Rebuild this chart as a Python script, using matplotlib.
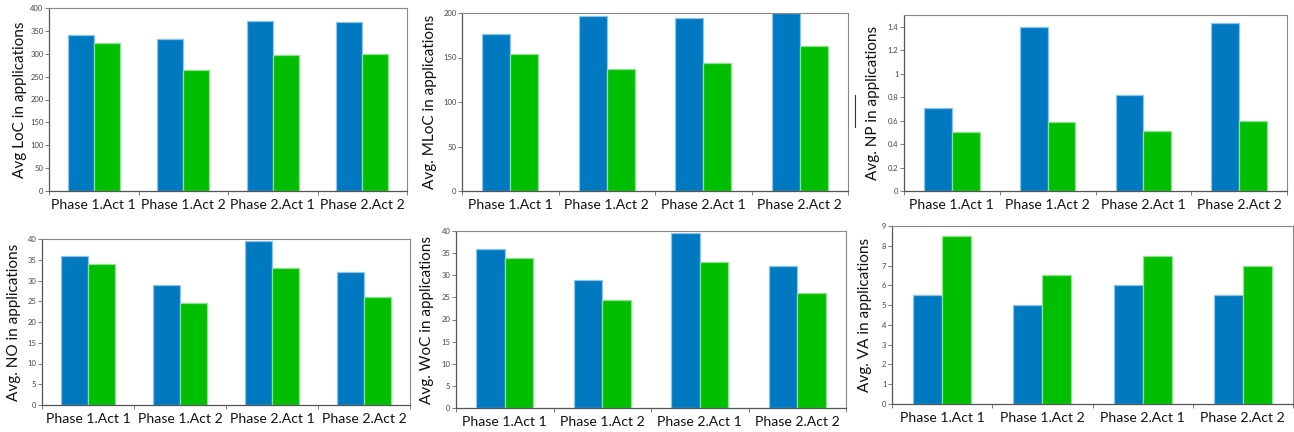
"""Six grouped bar panels: averages per phase/activity, blue vs green group."""

import numpy as np
import matplotlib
matplotlib.use("Agg")
import matplotlib.pyplot as plt
from matplotlib.lines import Line2D

plt.rcParams["font.family"] = ["Lato", "DejaVu Sans"]

CATEGORIES = ["Phase 1.Act 1", "Phase 1.Act 2", "Phase 2.Act 1", "Phase 2.Act 2"]

loc_blue = [340, 333, 372, 370]
loc_green = [323, 264, 297, 300]

mloc_blue = [176, 197, 194, 200]
mloc_green = [154, 137, 144, 163]

np_blue = [0.71, 1.40, 0.82, 1.43]
np_green = [0.50, 0.59, 0.51, 0.60]

no_blue = [36, 29, 39.5, 32]
no_green = [34, 24.5, 33, 26]

woc_blue = [36, 29, 39.5, 32]
woc_green = [34, 24.5, 33, 26]

va_blue = [5.5, 5.0, 6.0, 5.5]
va_green = [8.5, 6.5, 7.5, 7.0]

BLUE = "#0079C1"
BLUE_EDGE = "#8CC4EA"
GREEN = "#00BE00"
GREEN_EDGE = "#8FE38F"

W, H = 1294, 432

# (left, right, top, bottom) px, label centre offset px, ylabel, data, ylim, ticks, tick labels
PANELS = [
    ((49, 407, 8, 191), 29, "Avg LoC in applications", loc_blue, loc_green,
     400, np.arange(0, 401, 50), None),
    ((462, 848, 13, 191), 32, "Avg. MLoC in applications", mloc_blue, mloc_green,
     200, np.arange(0, 201, 50), None),
    ((904, 1287, 15, 191), 31, "Avg. NP in applications", np_blue, np_green,
     1.5, np.arange(0, 1.41, 0.2),
     ["0", "0.2", "0.4", "0.6", "0.8", "1", "1.2", "1.4"]),
    ((42, 410, 239, 405), 28, "Avg. NO in applications", no_blue, no_green,
     40, np.arange(0, 41, 5), None),
    ((456, 846, 231, 408), 29, "Avg. WoC in applications", woc_blue, woc_green,
     40, np.arange(0, 41, 5), None),
    ((892, 1293, 226, 404), 27, "Avg. VA in applications", va_blue, va_green,
     9, np.arange(0, 10, 1), None),
]

fig = plt.figure(figsize=(W / 100, H / 100), dpi=100)

x = np.arange(len(CATEGORIES))
bw = 0.29

for (l, r, t, b), lab_off, ylabel, blue, green, ymax, yticks, ylabels in PANELS:
    ax = fig.add_axes([l / W, 1 - b / H, (r - l) / W, (b - t) / H])
    ax.bar(x - bw / 2, blue, bw, color=BLUE, edgecolor=BLUE_EDGE, linewidth=0.9)
    ax.bar(x + bw / 2, green, bw, color=GREEN, edgecolor=GREEN_EDGE, linewidth=0.9)

    ax.set_xlim(-0.5, len(CATEGORIES) - 0.5)
    ax.set_ylim(0, ymax)

    ax.set_yticks(yticks)
    if ylabels is not None:
        ax.set_yticklabels(ylabels)
    ax.tick_params(axis="y", labelsize=5.5, labelcolor="#444444", length=3,
                   width=0.6, color="#666666", pad=1)

    # category labels centred, tick marks on the boundaries
    ax.set_xticks(x)
    ax.set_xticklabels(CATEGORIES, fontsize=10.1, color="#111111")
    ax.tick_params(axis="x", length=0, pad=6)
    ax.set_xticks(np.arange(-0.5, len(CATEGORIES), 1.0), minor=True)
    ax.tick_params(axis="x", which="minor", length=3, width=0.6, color="#666666")

    for side in ["left", "bottom"]:
        ax.spines[side].set_color("#555555")
        ax.spines[side].set_linewidth(0.9)
    for side in ["top", "right"]:
        ax.spines[side].set_color("#888888")
        ax.spines[side].set_linewidth(0.8)

    ax.set_ylabel(ylabel, fontsize=11, color="#111111")
    ax.yaxis.set_label_coords(-(lab_off - 7) / (r - l), 0.5)

# stray mark left of the NP panel in the source image
fig.add_artist(Line2D([855 / W, 855 / W], [1 - 127 / H, 1 - 95 / H],
                      color="#333333", linewidth=0.8))

fig.savefig("out.png", dpi=100)
plt.close(fig)
